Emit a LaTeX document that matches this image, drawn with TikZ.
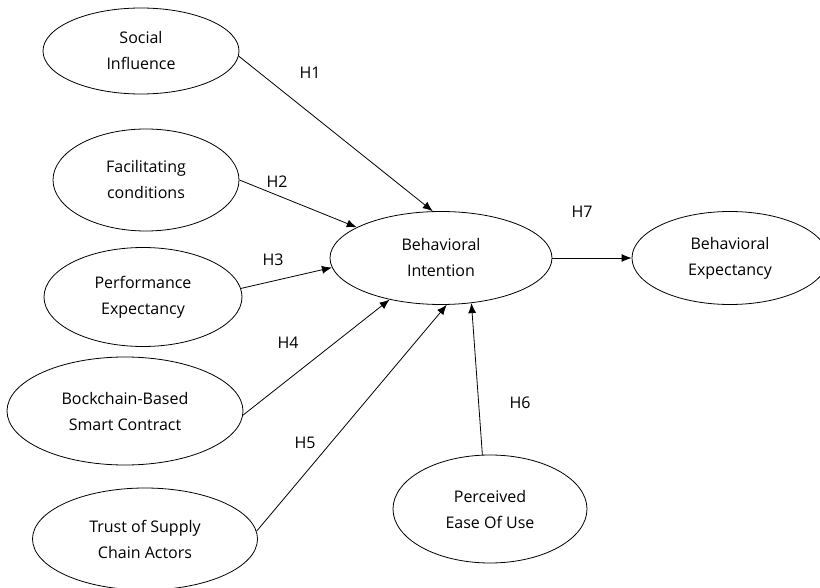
\documentclass[tikz,border=0pt]{standalone}
\usepackage{fontspec}
\setmainfont{Open Sans}
\usetikzlibrary{arrows.meta,shapes.geometric}
\tikzset{
  construct/.style={
    draw,
    ellipse,
    inner sep=0pt,
    align=center,
    line width=0.8pt,
    font=\fontsize{16}{26}\selectfont
  },
  hyp/.style={font=\fontsize{16}{19}\selectfont, inner sep=1pt},
  arrow/.style={-{Latex[length=10pt,width=8pt]}, line width=0.8pt},
}

\begin{document}
\begin{tikzpicture}[x=1pt,y=-1pt]
\useasboundingbox (0,0) rectangle (820,588);

% Antecedents
\node[construct, minimum width=196, minimum height=86] (social) at (141,51) {Social\\Influence};
\node[construct, minimum width=186, minimum height=102] (facil) at (146,180) {Facilitating\\conditions};
\node[construct, minimum width=198, minimum height=99] (perf) at (143,297) {Performance\\Expectancy};
\node[construct, minimum width=236, minimum height=108] (chain) at (125,411) {Bockchain-Based\\Smart Contract};
\node[construct, minimum width=225, minimum height=102] (trust) at (145,539) {Trust of Supply\\Chain Actors};

% Intention, outcome and ease of use
\node[construct, minimum width=222, minimum height=93] (intent) at (441,258) {Behavioral\\Intention};
\node[construct, minimum width=196, minimum height=93] (expect) at (730,258) {Behavioral\\Expectancy};
\node[construct, minimum width=194, minimum height=108] (ease) at (490,509) {Perceived\\Ease Of Use};

\draw[arrow] (social.-3) -- (intent.100);
\draw[arrow] (facil.east) -- (intent.160);
\draw[arrow] (perf.5) -- (intent.185);
\draw[arrow] (chain.-2) -- (intent.219);
\draw[arrow] (trust.4) -- (intent.277);
\draw[arrow] (ease.98) -- (intent.304);
\draw[arrow] (intent.east) -- (expect.west);

% Hypothesis labels
\node[hyp] (h1) at (310,73) {H1};
\node[hyp] (h2) at (277,182) {H2};
\node[hyp] (h3) at (273,260) {H3};
\node[hyp] (h4) at (288,343) {H4};
\node[hyp] (h5) at (305,443) {H5};
\node[hyp] (h6) at (520,403) {H6};
\node[hyp] (h7) at (582,212) {H7};

\end{tikzpicture}
\end{document}
